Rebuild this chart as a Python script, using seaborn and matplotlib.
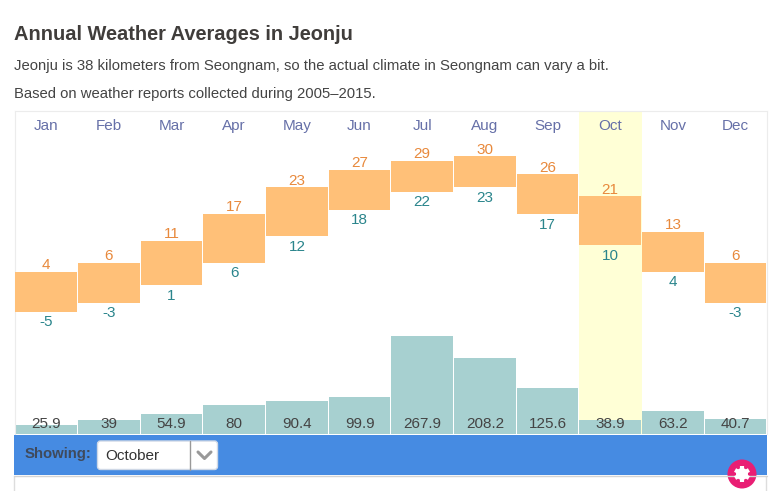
import matplotlib
matplotlib.use("Agg")
import matplotlib.pyplot as plt
from matplotlib.patches import Rectangle, FancyBboxPatch, Circle
import numpy as np
import seaborn as sns

months = ['Jan', 'Feb', 'Mar', 'Apr', 'May', 'Jun', 'Jul', 'Aug', 'Sep', 'Oct', 'Nov', 'Dec']
highs = [4, 6, 11, 17, 23, 27, 29, 30, 26, 21, 13, 6]
lows = [-5, -3, 1, 6, 12, 18, 22, 23, 17, 10, 4, -3]
precip = [25.9, 39, 54.9, 80, 90.4, 99.9, 267.9, 208.2, 125.6, 38.9, 63.2, 40.7]
selected = 'Oct'

sns.set_theme(style="white")
plt.rcParams['font.family'] = ['Liberation Sans', 'DejaVu Sans']

W, H = 778, 491
fig = plt.figure(figsize=(W / 100, H / 100), dpi=100)

# plot box in pixels: x 15-767, y 111-434
ax = fig.add_axes([14.9 / W, (H - 434) / H, 752 / W, 323 / H])
ax.set_zorder(2)
ax.patch.set_visible(False)
ax2 = ax.twinx()
ax2.set_zorder(1)

# precipitation bars
spread = np.array(highs) - np.array(lows)
sns.barplot(x=months, y=precip, color='#a7d0d0', saturation=1, width=0.982, linewidth=0, ax=ax2)
ax2.set_ylim(0, 882)
ax2.set_xlim(-0.5, 11.5)
ax2.set_yticks([])
ax2.set_ylabel('')
ax2.tick_params(bottom=False, labelbottom=False)

# temperature range bars
sns.barplot(x=months, y=spread, bottom=lows, color='#ffc078', saturation=1, width=0.982, linewidth=0, ax=ax)
ax.set_ylim(-32.5, 40.2)
ax.set_xlim(-0.5, 11.5)
ax.set_yticks([])
ax.set_ylabel('')
ax.tick_params(bottom=False, labelbottom=False)

idx = months.index(selected)
ax2.axvspan(idx - 0.5, idx + 0.5, color='#ffffd6', lw=0, zorder=0)

# column separators
ax2.set_xticks(np.arange(-0.5, 12), minor=True)
ax2.grid(True, which='minor', axis='x', color='#ececec', lw=1, zorder=0)
ax2.set_axisbelow(True)
ax2.tick_params(which='minor', bottom=False)
for s in ax.spines.values():
    s.set_visible(False)
for name, s in ax2.spines.items():
    s.set_color('#ececec')
    s.set_linewidth(0.8)
ax2.spines['bottom'].set_visible(False)

trans = ax.get_xaxis_transform()
for i, m in enumerate(months):
    ax.text(i, 0.953, m, transform=trans, ha='center', va='center', fontsize=11, color='#6670a8')
    ax.annotate(str(highs[i]), (i, highs[i]), xytext=(0, -0.3), textcoords='offset points',
                ha='center', va='bottom', fontsize=11, color='#e8893c')
    ax.annotate(str(lows[i]), (i, lows[i]), xytext=(0, -2.5), textcoords='offset points',
                ha='center', va='top', fontsize=11, color='#2a858c')
    ax.text(i, 0.0305, '{:g}'.format(precip[i]), transform=trans, ha='center', va='center',
            fontsize=11, color='#444444')

# page furniture in pixel coordinates
ui = fig.add_axes([0, 0, 1, 1])
ui.set_xlim(0, W)
ui.set_ylim(H, 0)
ui.axis('off')
ui.set_zorder(3)
ui.patch.set_visible(False)

ui.text(14, 34.5, 'Annual Weather Averages in Jeonju', fontsize=14.4, fontweight='bold',
        color='#403d3b', va='center')
ui.text(14, 65.5, 'Jeonju is 38 kilometers from Seongnam, so the actual climate in Seongnam can vary a bit.',
        fontsize=10.75, color='#444444', va='center')
ui.text(14, 93.5, 'Based on weather reports collected during 2005\u20132015.',
        fontsize=10.75, color='#444444', va='center')

ui.add_patch(Rectangle((14, 435), 753, 40, color='#468be2', lw=0))
ui.plot([14.5, 14.5], [476, 491], color='#dddddd', lw=1)
ui.plot([766.5, 766.5], [476, 491], color='#dddddd', lw=1)
ui.plot([14, 767], [475.5, 475.5], color='#d4d4d4', lw=1)
ui.text(25, 454, 'Showing:', fontsize=10.7, fontweight='bold', color='#3f4a5c', va='center')
ui.add_patch(FancyBboxPatch((97.5, 441), 120, 28.5, boxstyle='round,pad=0,rounding_size=3',
                            fc='white', ec='#cfd8e6', lw=1))
ui.plot([190.5, 190.5], [441, 469.5], color='#999999', lw=1)
ui.text(105, 455.5, 'October', fontsize=11, color='#333333', va='center')
ui.plot([198, 204.5, 211], [452, 458.5, 452], color='#999999', lw=2.2)

# settings button, gear built from a disc and three crossed bars
ui.add_patch(Circle((742, 474), 14.5, color='#e91e74', lw=0))
for angle in np.deg2rad([90, 30, 150]):
    dx, dy = 8 * np.cos(angle), 8 * np.sin(angle)
    ui.plot([742 - dx, 742 + dx], [474 - dy, 474 + dy], color='white', lw=3, solid_capstyle='butt')
ui.add_patch(Circle((742, 474), 6, color='white', lw=0))
ui.add_patch(Circle((742, 474), 2.6, color='#e91e74', lw=0))

fig.savefig('out.png', dpi=100)
